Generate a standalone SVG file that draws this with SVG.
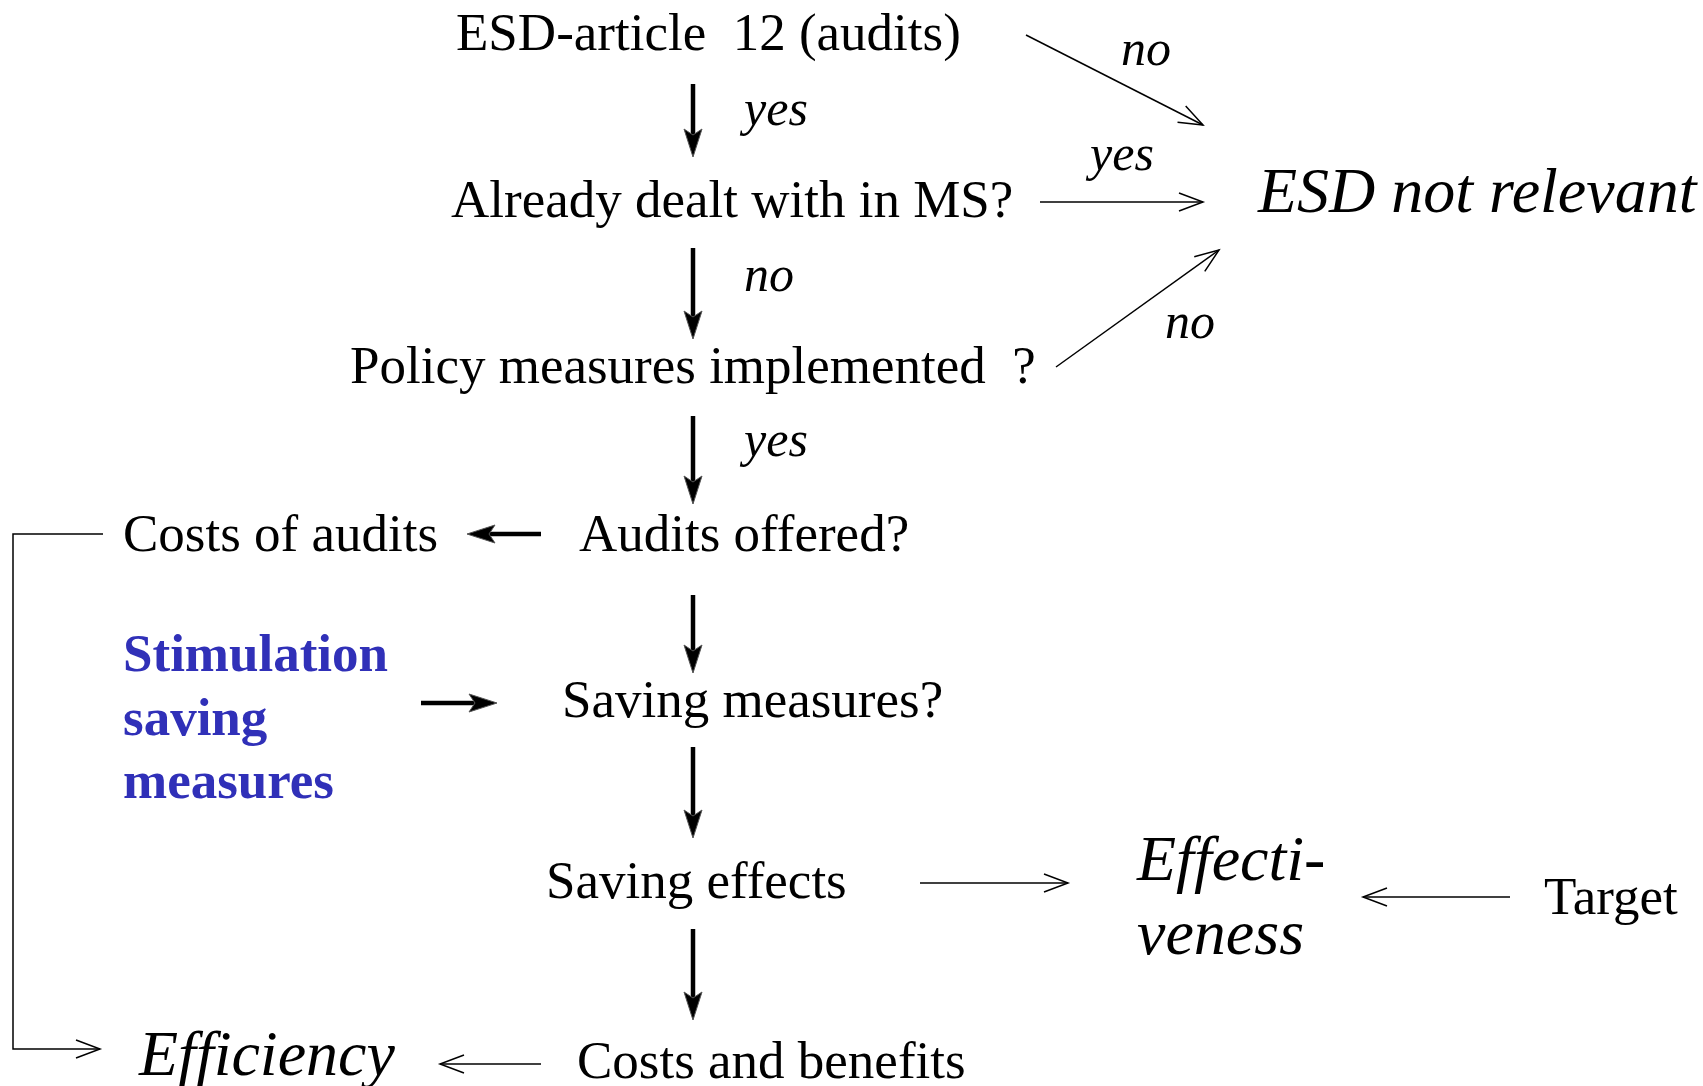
<svg xmlns="http://www.w3.org/2000/svg" width="1703" height="1086" viewBox="0 0 1703 1086">
<style>
text{font-family:"Liberation Serif","Times New Roman",serif;fill:#000}
.main{font-size:53px}
.big{font-size:64px;font-style:italic}
.lbl{font-size:50px;font-style:italic}
.blue{font-size:53px;font-weight:bold;fill:#3030b8}
.thin{fill:none;stroke:#000;stroke-width:1.5;marker-end:url(#thinHead)}
.thick{fill:none;stroke:#000;stroke-width:4.5;marker-end:url(#thickHead)}
</style>
<defs>
<marker id="thinHead" markerUnits="userSpaceOnUse" viewBox="-28 -12 32 24" markerWidth="32" markerHeight="24" refX="0" refY="0" orient="auto">
<path d="M-24,-9 L0,0 L-24,9" fill="none" stroke="#000" stroke-width="1.5"/>
</marker>
<marker id="thickHead" markerUnits="userSpaceOnUse" viewBox="-16 -14 40 28" markerWidth="40" markerHeight="28" refX="0" refY="0" orient="auto">
<path d="M20,0 L-8,-9 L-2,0 L-8,9 Z" fill="#000" stroke="#555" stroke-width="1"/>
</marker>
</defs>
<g id="connectors">
<line class="thick" x1="693" y1="84" x2="693" y2="137"/>
<line class="thick" x1="693" y1="248" x2="693" y2="319"/>
<line class="thick" x1="693" y1="416" x2="693" y2="484"/>
<line class="thick" x1="693" y1="595" x2="693" y2="653"/>
<line class="thick" x1="693" y1="747" x2="693" y2="818"/>
<line class="thick" x1="693" y1="929" x2="693" y2="1000"/>
<line class="thick" x1="541" y1="534" x2="487" y2="534"/>
<line class="thick" x1="421" y1="703" x2="477" y2="703"/>
<line class="thin" x1="1026" y1="35" x2="1203" y2="125"/>
<line class="thin" x1="1040" y1="202" x2="1203" y2="202"/>
<line class="thin" x1="1056" y1="367" x2="1219" y2="250"/>
<line class="thin" x1="920" y1="883" x2="1068" y2="883"/>
<line class="thin" x1="1510" y1="897" x2="1363" y2="897"/>
<line class="thin" x1="541" y1="1064" x2="440" y2="1064"/>
<polyline class="thin" points="103,534 13,534 13,1049 100,1049"/>
<text class="lbl" x="1121" y="65">no</text>
<text class="lbl" x="744" y="125">yes</text>
<text class="lbl" x="1090" y="170">yes</text>
<text class="lbl" x="744" y="291">no</text>
<text class="lbl" x="1165" y="338">no</text>
<text class="lbl" x="744" y="456">yes</text>
</g>
<g id="n-esd"><text class="main" x="456" y="50">ESD-article &#160;12 (audits)</text></g>
<g id="n-dealt"><text class="main" x="451" y="217">Already dealt with in MS?</text></g>
<g id="n-policy"><text class="main" x="350" y="383">Policy measures implemented &#160;?</text></g>
<g id="n-notrel"><text class="big" x="1258" y="212">ESD not relevant</text></g>
<g id="n-audits"><text class="main" x="579" y="551">Audits offered?</text></g>
<g id="n-costs"><text class="main" x="123" y="551">Costs of audits</text></g>
<g id="n-stim">
<text class="blue" x="123" y="671">Stimulation</text>
<text class="blue" x="123" y="735">saving</text>
<text class="blue" x="123" y="798">measures</text>
</g>
<g id="n-saving"><text class="main" x="562" y="717">Saving measures?</text></g>
<g id="n-effects"><text class="main" x="546" y="898">Saving effects</text></g>
<g id="n-effectiveness">
<text class="big" x="1137" y="880">Effecti-</text>
<text class="big" x="1137" y="954">veness</text>
</g>
<g id="n-target"><text class="main" x="1544" y="914">Target</text></g>
<g id="n-cb"><text class="main" x="577" y="1078">Costs and benefits</text></g>
<g id="n-eff"><text class="big" x="139" y="1075">Efficiency</text></g>
</svg>
